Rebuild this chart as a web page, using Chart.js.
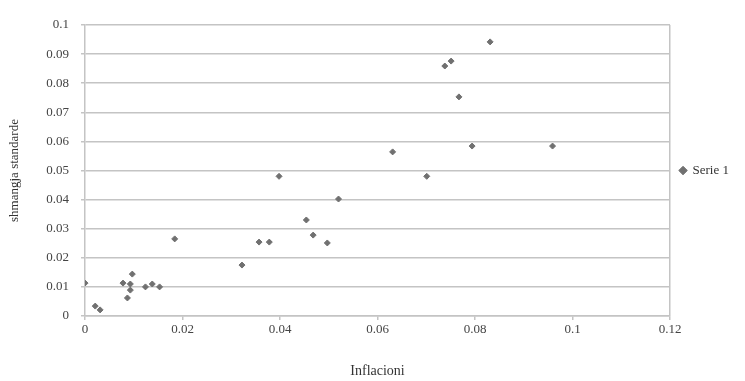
<!DOCTYPE html>
<html>
<head>
<meta charset="utf-8">
<script src="https://cdn.jsdelivr.net/npm/chart.js@4"></script>
<style>
  html, body { margin: 0; padding: 0; background: #fff; }
  #wrap { width: 745px; height: 381px; }
</style>
</head>
<body>
<div id="wrap"><canvas id="grafico"></canvas></div>
<script>
// inflacioni (x) dhe shmangja standarde (y)
const inflacioni = [0.0000, 0.0021, 0.0031, 0.0078, 0.0087, 0.0093, 0.0093, 0.0097, 0.0124, 0.0138, 0.0153, 0.0184,
  0.0322, 0.0357, 0.0378, 0.0398, 0.0454, 0.0468, 0.0497, 0.0520, 0.0631, 0.0701,
  0.0738, 0.0751, 0.0767, 0.0794, 0.0831, 0.0959];
const shmangja = [0.0113, 0.0034, 0.0021, 0.0113, 0.0062, 0.0110, 0.0089, 0.0144, 0.0100, 0.0110, 0.0100, 0.0265,
  0.0175, 0.0254, 0.0254, 0.0480, 0.0330, 0.0278, 0.0251, 0.0402, 0.0564, 0.0480,
  0.0859, 0.0876, 0.0753, 0.0584, 0.0942, 0.0584];

const xTicks = [0, 0.02, 0.04, 0.06, 0.08, 0.1, 0.12];
const yTicks = [0, 0.01, 0.02, 0.03, 0.04, 0.05, 0.06, 0.07, 0.08, 0.09, 0.1];
const seriesName = 'Serie 1';

const fontFamily = '"Liberation Serif", "DejaVu Serif", serif';
const ngjyraPikave = '#707070';
const ngjyraRrjetit = '#c4c4c4';

const pikat = inflacioni.map((x, i) => ({ x: x, y: shmangja[i] }));

new Chart(document.getElementById('grafico'), {
  type: 'scatter',
  data: {
    datasets: [{
      label: seriesName,
      data: pikat,
      pointStyle: 'rectRot',
      radius: 3,
      backgroundColor: ngjyraPikave,
      borderColor: ngjyraPikave,
      borderWidth: 1
    }]
  },
  options: {
    responsive: true,
    maintainAspectRatio: false,
    animation: false,
    layout: { padding: { top: 25, right: 6, bottom: 0, left: 0 } },
    plugins: {
      legend: {
        position: 'right',
        fullSize: false,
        labels: {
          usePointStyle: true,
          pointStyle: 'rectRot',
          boxWidth: 6,
          boxHeight: 6,
          padding: 10,
          color: '#333',
          font: { family: fontFamily, size: 13 }
        }
      },
      tooltip: { enabled: false }
    },
    scales: {
      x: {
        type: 'linear',
        min: 0,
        max: 0.12,
        afterBuildTicks: (scale) => { scale.ticks = xTicks.map(v => ({ value: v })); },
        afterFit: (scale) => { scale.height = 65; },
        ticks: {
          color: '#444',
          padding: 2,
          font: { family: fontFamily, size: 13 },
          callback: (v) => String(Number(v.toFixed(2)))
        },
        grid: {
          color: (ctx) => (ctx.tick && ctx.tick.value === 0.12 ? ngjyraRrjetit : 'rgba(0,0,0,0)'),
          tickColor: ngjyraRrjetit,
          tickLength: 4,
          lineWidth: 1.5
        },
        border: { color: ngjyraRrjetit, width: 1.5 },
        title: {
          display: true,
          text: 'Inflacioni',
          color: '#333',
          padding: { top: 17, bottom: 1 },
          font: { family: fontFamily, size: 14 }
        }
      },
      y: {
        type: 'linear',
        min: 0,
        max: 0.1,
        afterBuildTicks: (scale) => { scale.ticks = yTicks.map(v => ({ value: v })); },
        afterFit: (scale) => { scale.width = 85; },
        ticks: {
          color: '#444',
          padding: 12,
          font: { family: fontFamily, size: 13 },
          callback: (v) => String(Number(v.toFixed(2)))
        },
        grid: {
          color: ngjyraRrjetit,
          tickColor: ngjyraRrjetit,
          tickLength: 4,
          lineWidth: 1.5
        },
        border: { color: ngjyraRrjetit, width: 1.5 },
        title: {
          display: true,
          text: 'shmangja standarde',
          color: '#333',
          padding: { top: 7, bottom: 0 },
          font: { family: fontFamily, size: 13 }
        }
      }
    }
  }
});
</script>
</body>
</html>
